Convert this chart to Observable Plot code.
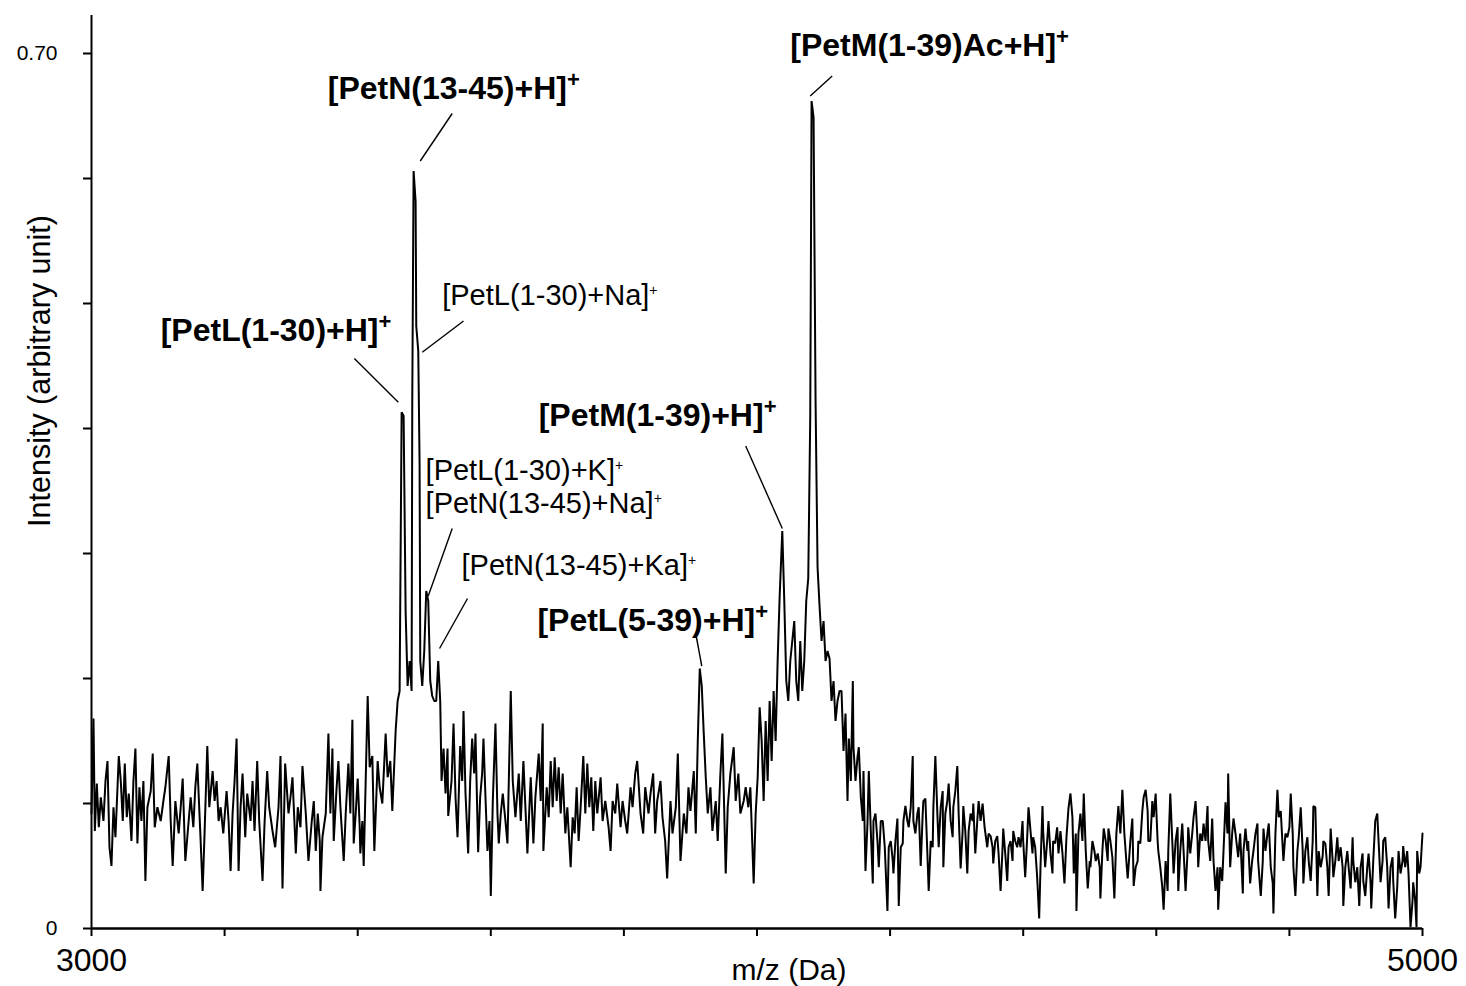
<!DOCTYPE html>
<html><head><meta charset="utf-8">
<script src="https://cdn.jsdelivr.net/npm/d3@7"></script>
<script src="https://cdn.jsdelivr.net/npm/@observablehq/plot@0.6"></script>
<style>html,body{margin:0;padding:0;background:#fff;} #chart svg{display:block}</style>
</head><body><div id="chart"></div>
<script>
// Spectrum: [m/z (Da), intensity x 1000]
const spectrum = [
[3000,92],[3003,168],[3005,78],[3008,116],[3011,81],[3014,105],[3018,86],[3021,118],[3024,134],[3027,65],[3030,50],[3033,97],[3036,73],[3041,138],[3044,118],[3047,86],[3050,132],[3053,89],[3056,108],[3060,70],[3063,118],[3066,144],[3069,68],[3072,113],[3075,86],[3078,118],[3081,38],[3084,97],[3089,110],[3092,140],[3095,81],[3099,97],[3104,86],[3108,102],[3111,113],[3116,138],[3119,86],[3122,50],[3126,102],[3131,76],[3134,97],[3137,120],[3141,54],[3146,86],[3149,105],[3153,81],[3156,113],[3159,132],[3164,70],[3167,30],[3170,78],[3174,146],[3177,97],[3182,126],[3185,102],[3188,118],[3191,86],[3194,97],[3198,76],[3203,110],[3206,86],[3209,46],[3212,92],[3215,118],[3218,152],[3221,46],[3224,97],[3227,124],[3231,73],[3234,108],[3239,86],[3242,118],[3245,78],[3249,134],[3252,86],[3257,38],[3260,84],[3264,126],[3267,97],[3272,78],[3276,65],[3281,97],[3284,138],[3287,32],[3291,132],[3296,92],[3299,105],[3302,121],[3307,60],[3310,97],[3314,81],[3317,130],[3322,92],[3326,54],[3331,86],
[3334,102],[3337,62],[3340,92],[3343,70],[3344,30],[3347,73],[3352,92],[3356,156],[3359,92],[3362,144],[3364,70],[3368,110],[3371,134],[3374,97],[3379,54],[3382,92],[3386,132],[3389,92],[3392,167],[3394,68],[3397,92],[3400,120],[3403,81],[3404,60],[3407,86],[3409,50],[3412,118],[3415,186],[3418,129],[3422,138],[3425,62],[3430,134],[3433,113],[3437,100],[3442,156],[3445,121],[3449,134],[3452,94],[3457,158],[3460,182],
[3463,190],[3466,413],[3469,410],[3472,254],[3475,194],[3478,214],[3481,190],[3482,422],[3484,606],[3487,582],[3488,482],[3491,462],[3493,371],[3494,214],[3497,194],[3500,222],[3503,270],[3506,262],[3509,198],[3512,186],[3515,182],[3518,182],[3521,214],[3524,182],
[3526,118],[3529,144],[3532,108],[3535,144],[3536,90],[3541,118],[3544,164],[3547,105],[3550,73],[3554,146],[3557,118],[3559,174],[3562,108],[3566,60],[3569,118],[3572,152],[3575,124],[3577,156],[3581,61],[3584,105],[3587,124],[3589,152],[3592,105],[3595,62],[3598,86],[3600,26],[3603,102],[3607,164],[3610,92],[3612,68],[3615,92],[3618,108],[3622,86],[3625,68],[3630,190],[3633,118],[3637,89],[3642,124],[3645,86],[3649,134],[3652,97],[3655,60],[3660,121],[3664,68],[3667,105],[3672,140],
[3675,102],[3678,164],[3679,62],[3684,113],[3687,89],[3690,134],[3693,97],[3696,137],[3699,102],[3702,129],[3705,92],[3708,124],[3712,76],[3715,97],[3720,49],[3723,89],[3726,76],[3729,113],[3732,70],[3735,97],[3739,138],[3742,92],[3745,132],[3748,97],[3751,121],[3754,78],[3757,118],[3760,92],[3765,121],[3768,86],[3772,102],[3777,81],[3780,62],[3783,102],[3787,92],[3790,116],[3795,81],[3798,102],[3802,86],[3805,76],[3810,113],[3813,97],[3817,124],[3820,134],[3825,92],[3829,76],[3832,113],[3837,92],[3840,108],[3844,124],[3847,76],[3850,102],[3855,118],[3858,89],[3862,70],[3865,40],[3870,102],[3873,76],[3878,97],[3881,140],[3885,54],[3890,92],[3894,76],[3897,113],[3900,94],[3905,126],[3908,76],[3911,150],[3914,208],[3917,194],[3920,156],[3923,121],[3926,92],[3930,113],[3933,78],[3938,102],[3941,70],[3945,124],[3948,156],[3953,44],[3956,97],[3960,124],[3965,145],[3968,102],[3972,124],[3975,92],[3980,102],[3983,113],[3987,97],[3990,113],[3995,36],[3998,92],[4001,121],[4004,177],
[4007,150],[4010,102],[4013,166],[4016,118],[4019,182],[4022,134],[4025,190],[4028,150],[4031,214],[4034,265],[4038,318],[4041,262],[4044,198],[4047,182],[4050,214],[4053,230],[4056,246],[4059,198],[4062,182],[4065,230],[4068,190],[4071,214],[4074,262],[4077,280],[4080,409],[4082,662],[4085,649],[4088,422],[4091,289],[4094,258],[4097,230],[4100,246],[4103,214],[4106,222],[4109,216],[4112,182],[4115,198],[4118,166],[4121,182],[4124,190],
[4127,190],[4130,142],[4133,172],[4136,102],[4138,152],[4141,118],[4144,198],[4145,145],[4148,118],[4151,137],[4153,145],[4156,105],[4159,86],[4160,126],[4163,46],[4166,84],[4168,126],[4171,78],[4174,36],[4175,86],[4178,92],[4181,70],[4183,49],[4186,86],[4189,86],[4192,65],[4196,14],[4198,65],[4201,70],[4204,54],[4205,44],[4208,70],[4211,88],[4213,18],[4216,65],[4219,68],[4220,86],[4223,98],[4226,86],[4228,81],[4231,97],[4234,138],[4235,86],[4238,76],[4241,92],[4243,97],[4246,50],[4249,92],[4250,102],[4253,104],[4256,60],[4258,30],[4261,70],[4264,65],[4265,97],[4268,138],[4271,92],[4273,65],[4276,97],[4279,110],[4280,49],[4283,92],[4286,102],[4288,116],[4291,86],[4294,73],[4295,97],[4298,110],[4301,130],[4303,92],[4306,48],[4309,78],[4310,98],[4313,78],[4316,44],[4318,78],[4321,92],[4324,86],[4325,100],[4328,60],[4331,86],[4333,102],[4336,86],[4339,100],[4342,81],[4346,65],[4348,76],[4351,74],[4354,65],[4355,52],[4358,70],[4361,74],[4363,60],[4366,30],[4369,65],[4370,80],[4373,60],[4376,38],[4378,65],[4381,70],[4384,54],[4385,78],[4388,70],[4391,65],[4393,73],[4396,65],[4399,86],[4400,70],[4403,41],[4406,73],[4408,97],[4411,78],[4414,60],[4415,73],[4418,65],[4421,41],[4424,8],[4426,49],[4429,98],[4430,78],[4433,49],[4436,70],[4438,86],[4441,60],[4444,44],[4445,70],[4448,68],[4451,81],[4453,60],[4456,78],[4459,60],[4462,36],[4465,73],[4468,96],
[4471,108],[4474,89],[4476,44],[4479,76],[4480,14],[4483,76],[4486,92],[4489,70],[4491,108],[4494,62],[4497,32],[4500,54],[4501,49],[4504,70],[4507,62],[4509,54],[4512,60],[4515,49],[4516,24],[4519,62],[4521,80],[4524,70],[4527,54],[4528,80],[4531,70],[4534,57],[4537,24],[4540,76],[4543,98],[4546,76],[4549,111],[4552,76],[4555,54],[4557,40],[4560,62],[4561,70],[4564,88],[4566,34],[4569,49],[4572,54],[4573,70],[4576,68],[4579,94],[4581,105],[4584,111],[4587,94],[4588,70],[4591,70],[4594,102],[4596,89],[4599,108],[4602,70],[4603,62],[4606,49],[4609,33],[4611,15],[4614,54],[4617,30],[4618,62],[4621,108],[4624,70],[4626,44],[4629,70],[4632,81],[4633,30],[4636,62],[4639,84],[4641,62],[4644,30],[4647,62],[4648,81],[4651,60],[4654,76],[4656,89],[4659,102],[4662,70],[4663,49],[4666,76],[4669,70],[4671,84],[4674,70],[4677,98],[4678,70],[4681,54],[4684,88],[4686,54],[4689,30],[4692,49],[4693,15],[4696,49],[4699,38],[4701,62],[4704,101],[4707,76],[4708,124],[4711,49],[4714,76],[4716,88],[4719,76],[4722,62],[4723,57],[4726,76],[4730,28],[4731,62],[4734,80],[4737,62],[4738,70],[4741,36],[4744,54],[4746,62],[4749,76],[4752,84],[4753,54],[4757,26],[4760,54],[4761,80],[4764,62],[4767,76],[4769,84],[4772,49],[4775,36],[4776,12],[4779,76],[4782,111],[4784,89],[4787,94],
[4791,54],[4794,76],[4797,73],[4800,81],[4802,108],[4805,76],[4806,49],[4809,26],[4812,62],[4814,73],[4817,97],[4820,62],[4821,36],[4824,62],[4827,73],[4829,54],[4832,38],[4835,70],[4836,98],[4839,97],[4842,26],[4844,62],[4847,49],[4850,58],[4851,70],[4854,68],[4857,49],[4859,26],[4862,80],[4865,54],[4866,41],[4869,54],[4872,73],[4874,54],[4877,65],[4880,49],[4881,18],[4884,49],[4887,62],[4889,49],[4892,32],[4895,73],[4896,54],[4899,37],[4902,49],[4905,18],[4907,49],[4910,60],[4911,38],[4914,26],[4917,49],[4919,60],[4922,36],[4923,16],[4926,54],[4929,86],[4932,92],[4934,70],[4937,37],[4940,54],[4941,70],[4944,73],[4947,49],[4949,16],[4952,49],[4955,57],[4956,38],[4959,8],[4962,33],[4964,62],[4967,44],[4970,54],[4971,66],[4974,49],[4977,62],[4979,44],[4982,1],[4985,22],[4986,37],[4989,22],[4991,1],[4992,62],[4995,44],[4997,49],[5000,76]
];

const xTicks = [3000, 3200, 3400, 3600, 3800, 4000, 4200, 4400, 4600, 4800, 5000];
const xTickLabels = ["3000", "", "", "", "", "", "", "", "", "", "5000"];
const yTicks = [0, 0.1, 0.2, 0.3, 0.4, 0.5, 0.6, 0.7];
const yTickLabels = ["0", "", "", "", "", "", "", "0.70"];
const xTitle = "m/z (Da)";
const yTitle = "Intensity (arbitrary unit)";

// Peak annotations (label anchor in data units)
const boldLabels = [
  {label: "[PetN(13-45)+H]", mz: 3355, v: 0.672},
  {label: "[PetM(1-39)Ac+H]", mz: 4050, v: 0.706},
  {label: "[PetL(1-30)+H]", mz: 3104, v: 0.478},
  {label: "[PetM(1-39)+H]", mz: 3672, v: 0.410},
  {label: "[PetL(5-39)+H]", mz: 3670, v: 0.246}
];
const plainLabels = [
  {label: "[PetL(1-30)+Na]", mz: 3527, v: 0.506},
  {label: "[PetL(1-30)+K]", mz: 3502, v: 0.366},
  {label: "[PetN(13-45)+Na]", mz: 3502, v: 0.340},
  {label: "[PetN(13-45)+Ka]", mz: 3556, v: 0.290}
];
const leaders = [
  {x1: 3542, y1: 0.652, x2: 3494, y2: 0.614},
  {x1: 4113, y1: 0.682, x2: 4080, y2: 0.666},
  {x1: 3395, y1: 0.456, x2: 3461, y2: 0.421},
  {x1: 3559, y1: 0.486, x2: 3497, y2: 0.461},
  {x1: 3983, y1: 0.386, x2: 4038, y2: 0.320},
  {x1: 3542, y1: 0.320, x2: 3506, y2: 0.266},
  {x1: 3565, y1: 0.264, x2: 3523, y2: 0.224},
  {x1: 3909, y1: 0.233, x2: 3917, y2: 0.210}
];

const font = "'Liberation Sans', Arial, Helvetica, sans-serif";

const chart = Plot.plot({
  width: 1466,
  height: 986,
  marginLeft: 91,
  marginRight: 44,
  marginTop: 15,
  marginBottom: 58,
  style: {fontFamily: font, background: "#fff", color: "#000", overflow: "visible"},
  x: {domain: [3000, 5000]},
  y: {domain: [0, 0.7304]},
  marks: [
    Plot.line(spectrum, {x: d => d[0], y: d => d[1] / 1000, stroke: "#000", strokeWidth: 2, strokeLinejoin: "miter"}),
    Plot.link(leaders, {x1: "x1", y1: "y1", x2: "x2", y2: "y2", stroke: "#000", strokeWidth: 1.4}),
    Plot.ruleY([0], {stroke: "#000", strokeWidth: 2.5}),
    Plot.ruleX([3000], {stroke: "#000", strokeWidth: 2}),
    Plot.axisX({ticks: xTicks, tickSize: 8, tickPadding: 12, strokeWidth: 2, label: null,
      tickFormat: d => xTickLabels[xTicks.indexOf(d)], fontSize: 32}),
    Plot.axisY({ticks: yTicks, tickSize: 8, tickPadding: 26, strokeWidth: 2, label: null,
      tickFormat: d => yTickLabels[yTicks.indexOf(d)], fontSize: 21}),
    Plot.text([xTitle], {text: d => d, frameAnchor: "bottom", textAnchor: "middle", lineAnchor: "middle", dx: 32, dy: 42, fontSize: 30}),
    Plot.text([yTitle], {text: d => d, frameAnchor: "left", textAnchor: "middle", lineAnchor: "middle", rotate: -90, dx: -51, dy: -101, fontSize: 30.5}),
    Plot.text(boldLabels, {x: "mz", y: "v", text: "label", textAnchor: "start", lineAnchor: "middle", fontWeight: "bold", fontSize: 32}),
    Plot.text(plainLabels, {x: "mz", y: "v", text: "label", textAnchor: "start", lineAnchor: "middle", fontSize: 29})
  ]
});

// superscript "+" on each ion label
const boldSet = new Set(boldLabels.map(d => d.label));
const plainSet = new Set(plainLabels.map(d => d.label));
d3.select(chart).selectAll("text").each(function() {
  const t = this.textContent;
  if (boldSet.has(t)) {
    d3.select(this).append("tspan").attr("dy", -12).attr("font-size", 22).attr("font-weight", "bold").text("+");
  } else if (plainSet.has(t)) {
    d3.select(this).append("tspan").attr("dy", -10).attr("font-size", 14).text("+");
  }
});

document.getElementById("chart").appendChild(chart);
</script>
</body></html>
